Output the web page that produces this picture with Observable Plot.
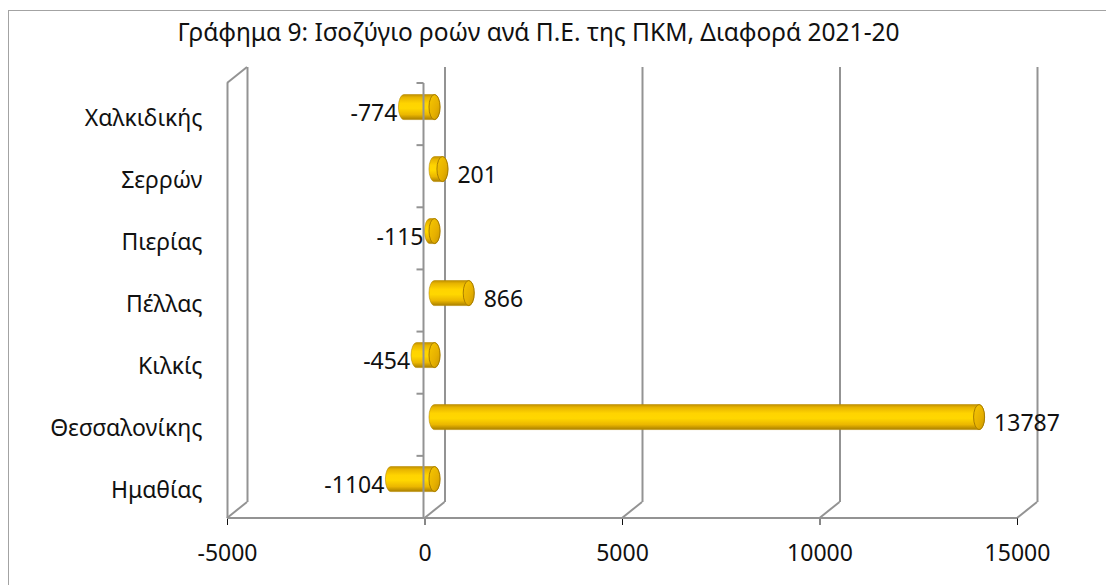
<!DOCTYPE html>
<html><head><meta charset="utf-8">
<script src="https://cdn.jsdelivr.net/npm/d3@7"></script>
<script src="https://cdn.jsdelivr.net/npm/@observablehq/plot@0.6"></script>
<style>
body{margin:0;background:#fff;}
#wrap{position:relative;width:1106px;height:585px;overflow:hidden;}
#border{position:absolute;left:8px;top:10px;width:1200px;height:700px;border-left:1.5px solid #a3a3a3;border-top:1.5px solid #a3a3a3;pointer-events:none;}
</style></head><body>
<div id="wrap"><div id="chart"></div><div id="border"></div></div>
<script>
const title = "Γράφημα 9: Ισοζύγιο ροών ανά Π.Ε. της ΠΚΜ, Διαφορά 2021-20";
const categories = ["Χαλκιδικής", "Σερρών", "Πιερίας", "Πέλλας", "Κιλκίς", "Θεσσαλονίκης", "Ημαθίας"];
const values = [-774, 201, -115, 866, -454, 13787, -1104];
const xTicks = [-5000, 0, 5000, 10000, 15000];

const data = categories.map((c, i) => ({region: c, value: values[i]}));

const FONT = "'Noto Sans', 'Open Sans', sans-serif";
const FS = 23;
const GRID = "#939393";
const DX = 20, DY = 16;       // depth of the 3D box
const BX = 10, BY = 8;        // bars sit at mid depth
const RX = 5.5, RY = 12.5;    // cylinder end ellipse

function bandwidth(dims) {
  return (dims.height - dims.marginTop - dims.marginBottom) / categories.length;
}

// floor diagonals, wall top
function box3d(index, scales, channels, dims) {
  const g = d3.create("svg:g").attr("stroke", GRID).attr("stroke-width", 2).attr("fill", "none");
  const top = dims.marginTop, bottom = dims.height - dims.marginBottom;
  const xl = scales.x(xTicks[0]), xr = scales.x(xTicks[xTicks.length - 1]);
  const seg = (x1, y1, x2, y2) => g.append("line").attr("x1", x1).attr("y1", y1).attr("x2", x2).attr("y2", y2);
  seg(xl, bottom, xr, bottom);
  for (const t of xTicks) seg(scales.x(t), bottom, scales.x(t) + DX, bottom - DY);
  seg(xl, top, xl + DX, top - DY);
  return g.node();
}

function catAxis(index, scales, channels, dims) {
  const g = d3.create("svg:g").attr("stroke", GRID).attr("stroke-width", 2).attr("fill", "none");
  const top = dims.marginTop, bottom = dims.height - dims.marginBottom;
  const x0 = scales.x(0) - 1;
  const bw = bandwidth(dims);
  g.append("line").attr("x1", x0).attr("x2", x0).attr("y1", top).attr("y2", bottom);
  for (let i = 0; i <= categories.length; i++) {
    const y = top + i * bw;
    g.append("line").attr("x1", x0 - 7).attr("x2", x0).attr("y1", y).attr("y2", y);
  }
  return g.node();
}

function cylinders(index, scales, channels, dims) {
  const g = d3.create("svg:g");
  const defs = g.append("defs");
  const body = defs.append("linearGradient").attr("id", "cylBody")
    .attr("x1", 0).attr("y1", 0).attr("x2", 0).attr("y2", 1);
  [[0, "#c39300"], [0.12, "#e8b500"], [0.35, "#ffd400"], [0.55, "#ffd700"], [0.8, "#ebb700"], [1, "#a97f00"]]
    .forEach(([o, c]) => body.append("stop").attr("offset", o).attr("stop-color", c));
  const cap = defs.append("linearGradient").attr("id", "cylCap")
    .attr("x1", 0).attr("y1", 0).attr("x2", 1).attr("y2", 1);
  [[0, "#f7c800"], [0.6, "#e6b000"], [1, "#c89600"]]
    .forEach(([o, c]) => cap.append("stop").attr("offset", o).attr("stop-color", c));
  const bw = bandwidth(dims);
  for (const d of data) {
    const yc = scales.y(d.region) + bw / 2 - BY;
    const xa = scales.x(Math.min(0, d.value)) + BX;
    const xb = scales.x(Math.max(0, d.value)) + BX;
    g.append("path")
      .attr("d", `M${xa},${yc - RY}L${xb},${yc - RY}A${RX},${RY} 0 0 1 ${xb},${yc + RY}L${xa},${yc + RY}A${RX},${RY} 0 0 1 ${xa},${yc - RY}Z`)
      .attr("fill", "url(#cylBody)").attr("stroke", "#b88b00").attr("stroke-width", 0.6);
    g.append("ellipse").attr("cx", xb).attr("cy", yc).attr("rx", RX).attr("ry", RY)
      .attr("fill", "url(#cylCap)").attr("stroke", "#a87d00").attr("stroke-width", 1);
  }
  return g.node();
}

const chart = Plot.plot({
  width: 1106,
  height: 585,
  marginLeft: 227,
  marginRight: 89,
  marginTop: 83,
  marginBottom: 67,
  style: {fontFamily: FONT, fontSize: FS + "px", color: "#111", background: "transparent", overflow: "visible"},
  x: {domain: [xTicks[0], xTicks[xTicks.length - 1]], ticks: xTicks, tickFormat: d => String(d), tickSize: 7, tickPadding: 19, label: null},
  y: {type: "band", domain: categories, padding: 0, axis: null},
  marks: [
    Plot.ruleX(xTicks, {dx: DX, dy: -DY, stroke: GRID, strokeWidth: 2, strokeOpacity: 1}),
    Plot.ruleX([xTicks[0]], {stroke: GRID, strokeWidth: 2, strokeOpacity: 1}),
    box3d,
    cylinders,
    catAxis,
    Plot.text(data.filter(d => d.value < 0), {x: "value", y: "region", text: d => String(d.value), textAnchor: "end", dx: BX - RX - 1.5, dy: -2, fontSize: FS, fill: "#111"}),
    Plot.text(data.filter(d => d.value >= 0), {x: "value", y: "region", text: d => String(d.value), textAnchor: "start", dx: BX + RX + 9, dy: -2, fontSize: FS, fill: "#111"}),
    Plot.text(categories, {y: d => d, text: d => d, frameAnchor: "left", textAnchor: "end", dx: -25, dy: 3, fontSize: FS, fill: "#111"}),
    Plot.text([title], {frameAnchor: "top-left", textAnchor: "middle", lineAnchor: "middle", dx: 311, dy: -50, fontSize: 24.5, fill: "#111"})
  ]
});
document.getElementById("chart").appendChild(chart);
</script>
</body></html>
